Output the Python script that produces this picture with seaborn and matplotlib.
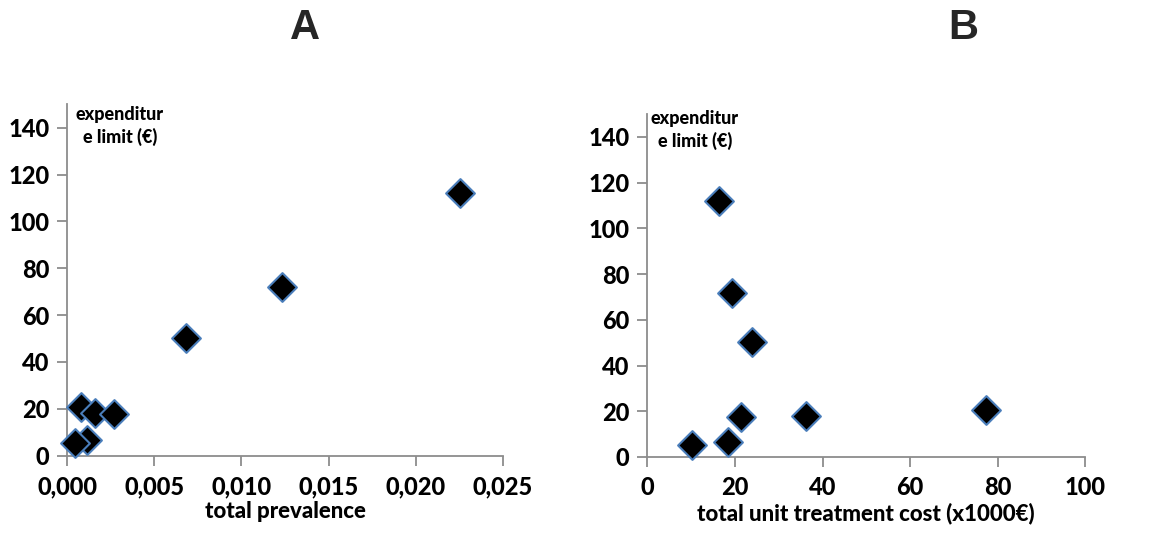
import matplotlib
matplotlib.use("Agg")
import matplotlib.pyplot as plt
import seaborn as sns
import pandas as pd
from matplotlib.ticker import FuncFormatter, MultipleLocator

# Data
prevalence = [0.02255, 0.01231, 0.00681, 0.00080, 0.00159, 0.00266, 0.00111, 0.00046]
limit_a = [112.2, 71.8, 50.1, 20.9, 18.1, 17.8, 6.7, 5.3]
unit_cost = [16.3, 19.3, 24.0, 77.3, 21.3, 36.3, 18.4, 10.2]
limit_b = [112.1, 71.6, 50.2, 20.6, 17.6, 18.1, 6.7, 5.1]

panel_titles = ["A", "B"]
xlabels = ["total prevalence", "total unit treatment cost (x1000€)"]
ylabel_text = "expenditur\ne limit (€)"

sns.set_style("white")
plt.rcParams['font.family'] = ['Lato', 'DejaVu Sans']

W, H = 1169, 535
fig = plt.figure(figsize=(W / 100, H / 100), dpi=100)

def ax_at(l, r, b, t):
    return fig.add_axes([l / W, 1 - b / H, (r - l) / W, (b - t) / H])

axA = ax_at(67.3, 502.7, 455.7, 104.3)
axB = ax_at(647.3, 1085.3, 457.0, 114.1)

dfA = pd.DataFrame({"x": prevalence, "y": limit_a})
dfB = pd.DataFrame({"x": unit_cost, "y": limit_b})

gray = "#8c8c8c"
for ax, df, xl, xmax, xstep, fmt, title, tx, ann_x, ann_y in [
    (axA, dfA, xlabels[0], 0.025, 0.005, lambda v, p: f"{v:.3f}".replace(".", ","),
     panel_titles[0], 305, 120, 106),
    (axB, dfB, xlabels[1], 100, 20, lambda v, p: f"{v:.0f}",
     panel_titles[1], 963, 695, 110),
]:
    sns.scatterplot(data=df, x="x", y="y", ax=ax, marker="D", s=215,
                    color="black", edgecolor="#4a7ebb", linewidth=1.5, zorder=3,
                    clip_on=False)
    ax.set_xlim(0, xmax)
    ax.set_ylim(0, 150)
    ax.xaxis.set_major_locator(MultipleLocator(xstep))
    ax.set_yticks(range(0, 141, 20))
    ax.xaxis.set_major_formatter(FuncFormatter(fmt))
    for s in ["top", "right"]:
        ax.spines[s].set_visible(False)
    for s in ["left", "bottom"]:
        ax.spines[s].set_color(gray)
        ax.spines[s].set_linewidth(1.3)
    ax.tick_params(axis="both", which="major", direction="out", length=7,
                   width=1.3, color=gray, labelsize=17, bottom=True, left=True,
                   labelcolor="black")
    for lab in ax.get_xticklabels() + ax.get_yticklabels():
        lab.set_fontweight("black")
    ax.tick_params(axis="x", pad=7)
    ax.tick_params(axis="y", pad=6)
    ax.set_xlabel(xl, fontsize=16, fontweight="black", labelpad=2, color="black")
    ax.set_ylabel("")
    fig.text(ann_x / W, 1 - ann_y / H, ylabel_text, ha="center", va="top",
             multialignment="center", fontsize=13, fontweight="black",
             linespacing=1.35, color="black")
    fig.text(tx / W, 1 - 28 / H, title, ha="center", va="center",
             fontsize=30, fontweight="bold", family=["Liberation Sans", "DejaVu Sans"])

fig.savefig("out.png", dpi=100)
